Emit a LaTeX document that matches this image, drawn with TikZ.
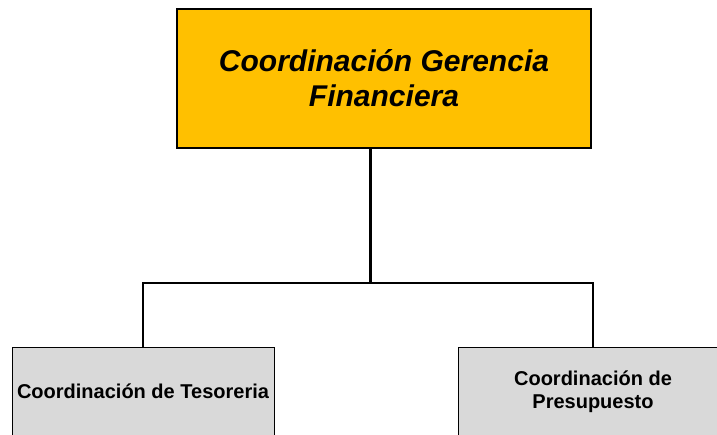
\documentclass[tikz,border=0pt]{standalone}
\usepackage{fontspec}
\setmainfont{Liberation Sans}
\usepackage{xcolor}
\usetikzlibrary{shadows}
\definecolor{gerencia}{HTML}{FFC000}
\definecolor{unidad}{HTML}{D9D9D9}

\begin{document}
\begin{tikzpicture}[x=1pt, y=-1pt,
  every node/.style={draw, align=center, inner sep=2pt},
  jefe/.style={fill=gerencia, line width=1.6pt, minimum width=414pt, minimum height=139pt,
               font=\fontsize{30}{35}\selectfont\bfseries\itshape,
               drop shadow={shadow xshift=1.2pt, shadow yshift=-1.2pt, fill=gray!70}},
  unidad/.style={fill=unidad, line width=1pt, minimum height=89pt,
                 font=\fontsize{20}{23}\selectfont\bfseries},
]
\clip (0,0) rectangle (717,434);
\node[jefe] (gerencia) at (384,78.5) {Coordinación Gerencia\\Financiera};
\node[unidad, minimum width=262pt] (tesoreria) at (143,391.5) {Coordinación de Tesoreria};
\node[unidad, minimum width=270pt] (presupuesto) at (593,391.5) {Coordinación de\\Presupuesto};
\coordinate (union) at (370,283);
\draw[line width=3pt] (gerencia.south -| union) -- (union);
\draw[line width=1.4pt] (tesoreria.north) |- (union) -| (presupuesto.north);
\end{tikzpicture}
\end{document}
